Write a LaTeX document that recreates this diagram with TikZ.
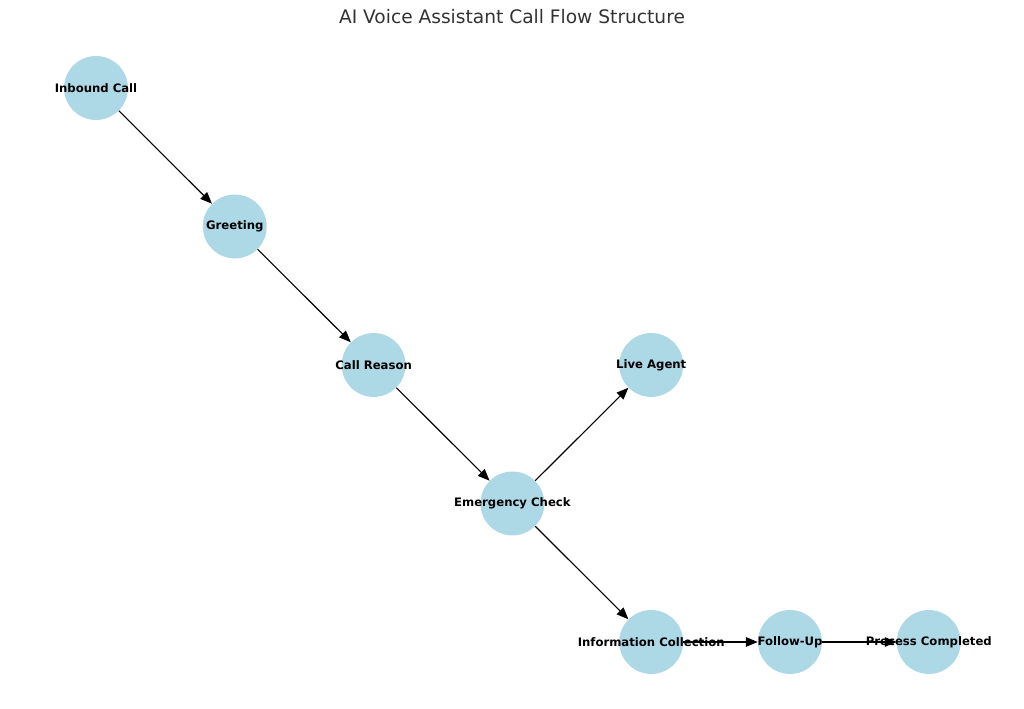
\documentclass[tikz,border=0pt]{standalone}
\usepackage{fontspec}
\setmainfont{DejaVu Sans}
\usetikzlibrary{arrows.meta}
\definecolor{nodefill}{HTML}{ADD8E6}
\definecolor{titlec}{HTML}{333333}

\begin{document}
\begin{tikzpicture}[x=0.72pt, y=0.72pt, >={Triangle[length=8.5pt,width=6.8pt]}]
\tikzset{step node/.style={circle, fill=nodefill, minimum size=46pt, inner sep=0pt},
  step label/.style={font=\bfseries\fontsize{8.4}{10}\selectfont, text=black},
  flow/.style={->, line width=0.8pt, black}}
\useasboundingbox (0,0) rectangle (1024,709);
\fill[white] (0,0) rectangle (1024,709);
\node[text=titlec, font=\fontsize{13.4}{16}\selectfont] (title) at (512,692) {AI Voice Assistant Call Flow Structure};
\foreach \nm/\xx/\yy/\lab in {inbound/96/621/Inbound Call, greeting/234.8/482.5/Greeting, reason/373.6/344/Call Reason, emergency/512.4/205.5/Emergency Check, agent/651.2/344/Live Agent, info/651.2/67/Information Collection, followup/790/67/Follow-Up, done/928.8/67/Process Completed}{
  \node[step node] (\nm) at (\xx,\yy) {};
  \node[step label] (\nm-lab) at (\nm) {\lab};
}
\foreach \a/\b in {inbound/greeting, greeting/reason, reason/emergency, emergency/agent, emergency/info, info/followup, followup/done}{\draw[flow] (\a) -- (\b);}
\end{tikzpicture}
\end{document}
